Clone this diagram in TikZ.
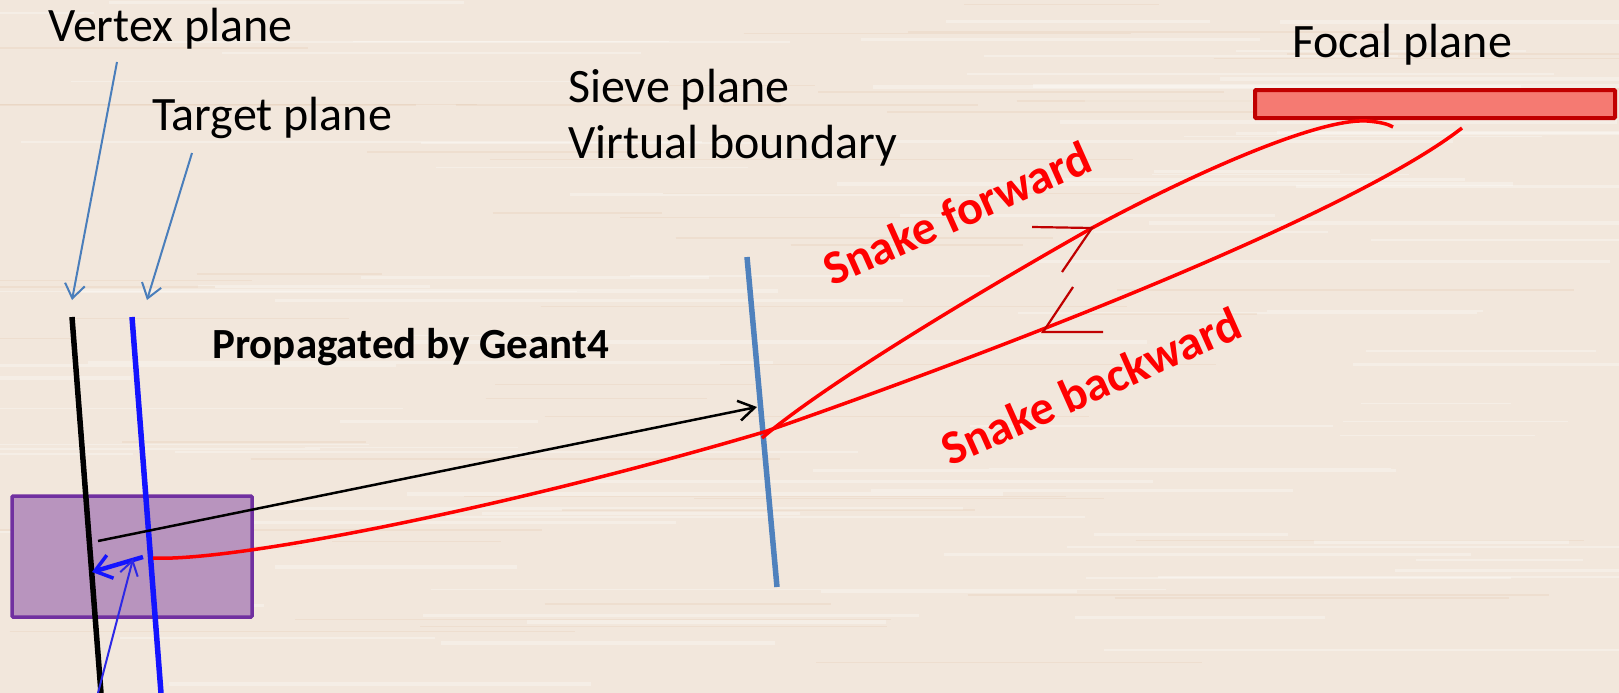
\documentclass[tikz,border=0pt]{standalone}
\usepackage{fontspec}
\setmainfont{Carlito}
\usetikzlibrary{arrows.meta}
\definecolor{bg}{RGB}{242,231,220}
\definecolor{steel}{RGB}{74,126,187}
\definecolor{sieveblue}{RGB}{79,129,189}
\definecolor{darkred}{RGB}{192,0,0}
\definecolor{salmon}{RGB}{245,122,114}
\definecolor{purpfill}{RGB}{184,148,190}
\definecolor{purpedge}{RGB}{112,48,160}
\definecolor{pblue}{RGB}{20,20,255}
\definecolor{tblue}{RGB}{45,40,230}
\begin{document}
\begin{tikzpicture}[x=1pt,y=-1pt,
  lbl/.style={font=\fontsize{48}{56}\selectfont, inner sep=0pt, anchor=base west},
  boldlbl/.style={font=\fontsize{43}{50}\selectfont\bfseries, inner sep=0pt, anchor=base west},
  snake/.style={font=\fontsize{48}{56}\selectfont\bfseries, text=red, inner sep=0pt, rotate=24},
  planeline/.style={line width=5.5pt},
  pointer/.style={steel, line width=2pt, -{Straight Barb[length=14pt,width=20pt,line width=2pt]}},
  track/.style={red, line width=3.5pt},
  marker/.style={darkred, line width=2.2pt},
  grain/.style={white, opacity=0.3},
]
\fill[bg] (0,0) rectangle (1619,693);
\useasboundingbox (0,0) rectangle (1619,693);
% faint wood grain
\pgfmathsetseed{7}
\foreach \i in {1,...,90}{
  \pgfmathsetmacro{\yy}{rnd*693}
  \pgfmathsetmacro{\xa}{rnd*1619-200}
  \pgfmathsetmacro{\ll}{150+rnd*600}
  \pgfmathsetmacro{\ww}{1+rnd*3}
  \draw[grain, line width=\ww pt] (\xa,\yy) -- ++(\ll,0);
}
\foreach \i in {1,...,50}{
  \pgfmathsetmacro{\yy}{rnd*693}
  \pgfmathsetmacro{\xa}{rnd*1619-200}
  \pgfmathsetmacro{\ll}{150+rnd*500}
  \draw[brown!40!bg, opacity=0.2, line width=1.5pt] (\xa,\yy) -- ++(\ll,0);
}

% labels
\node[lbl] (vtx) at (48,42) {Vertex plane};
\node[lbl] (tgt) at (152,130) {Target plane};
\node[lbl] (sieve) at (568,102) {Sieve plane};
\node[lbl] (virt) at (568,158) {Virtual boundary};
\node[lbl] (focal) at (1292,57) {Focal plane};
\node[boldlbl] (geant) at (212,358) {Propagated by Geant4};
\node[snake] (fwd) at (957,213) {Snake forward};
\node[snake] (bwd) at (1091,386) {Snake backward};

% target box
\draw[purpedge, fill=purpfill, line width=3.5pt, rounded corners=1pt] (12,496) rectangle (252,617);

% planes
\coordinate (v1) at (72,317); \coordinate (v2) at (101,693);
\coordinate (t1) at (132,317); \coordinate (t2) at (161,693);
\coordinate (s1) at (747,257); \coordinate (s2) at (777,587);
\draw[planeline, black] (v1) -- (v2);
\draw[planeline, pblue] (t1) -- (t2);
\draw[planeline, sieveblue] (s1) -- (s2);
\draw[darkred, fill=salmon, line width=4pt, rounded corners=1pt] (1255,90) rectangle (1615,118);

% pointer arrows
\coordinate (vtop) at (72,300);
\coordinate (ttop) at (147,300);
\draw[pointer] (117,62) -- (vtop);
\draw[pointer] (192,153) -- (ttop);

% Geant4 propagation
\coordinate (g0) at (98,541);
\coordinate (g1) at (757,407);
\draw[black, line width=2.5pt, -{Straight Barb[length=16pt,width=20pt,line width=2.5pt]}] (g0) -- (g1);

% snake tracks
\coordinate (b0) at (153,558);
\coordinate (bx) at (764,432);
\coordinate (b1) at (1462,128);
\draw[track] (b0) .. controls (230,562) and (500,510) .. (bx)
  .. controls (1000,350) and (1350,215) .. (b1);
\coordinate (f0) at (762,438);
\coordinate (fm) at (1092,228);
\coordinate (f1) at (1393,127);
\draw[track] (f0) .. controls (830,380) and (1000,280) .. (fm)
  .. controls (1200,170) and (1320,118) .. (1367,121)
  .. controls (1380,122) and (1388,124) .. (f1);

% hand-drawn direction markers
\draw[marker] (1032,227) -- (fm) -- (1062,272);
\coordinate (bm) at (1043,332);
\draw[marker] (1073,287) -- (bm) -- (1103,332);

% back-to-vertex arrows
\coordinate (k0) at (143,557);
\coordinate (k1) at (92,572);
\draw[pblue, line width=4.5pt, -{Straight Barb[length=16pt,width=24pt,line width=3.5pt]}] (k0) -- (k1);
\coordinate (m0) at (98,693);
\coordinate (m1) at (133,559);
\draw[tblue, line width=2pt, -{Straight Barb[length=14pt,width=18pt,line width=2pt]}] (m0) -- (m1);
\end{tikzpicture}
\end{document}
